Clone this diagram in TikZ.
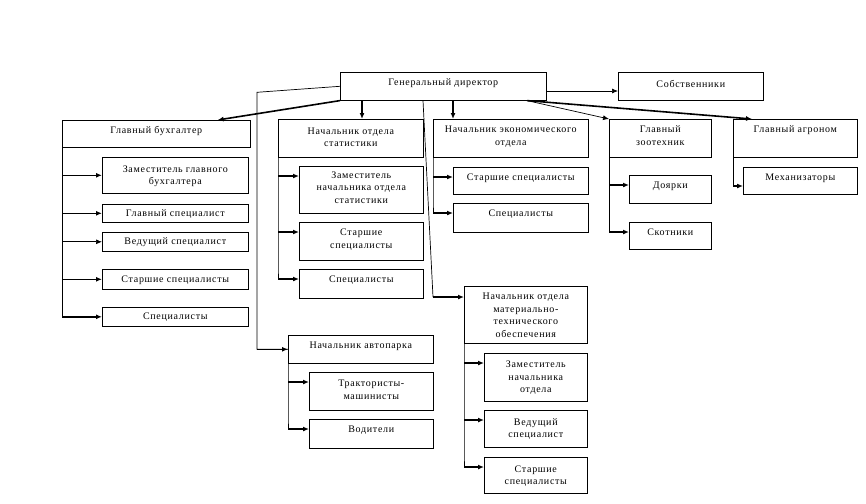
\documentclass[tikz,border=0pt]{standalone}
\usepackage{fontspec}
\setmainfont{Liberation Serif}[LetterSpace=7]
\usetikzlibrary{arrows.meta}
\newcommand{\boxtxt}[4][13.5]{\parbox[t][#3pt][t]{#2pt}{\centering\rule{0pt}{#1pt}#4}}

\begin{document}
\begin{tikzpicture}[x=1pt,y=-1pt,
    box/.style={draw,line width=.6pt,anchor=north west,inner sep=0pt,font=\fontsize{10}{12.5}\selectfont},
    arr/.style={-{Latex[length=6pt,width=5pt]},line width=1.6pt},
    arrthin/.style={-{Latex[length=6pt,width=5pt]},line width=.7pt},
    trunk/.style={line width=.7pt}]
    \useasboundingbox (0,0) rectangle (866,503);

    \node[box] (gd) at (340,72) {\boxtxt{206}{28}{Генеральный директор}};
    \node[box] (sob) at (618,72) {\boxtxt[15.5]{145}{28}{Собственники}};

    \node[box] (buh) at (62,120) {\boxtxt{188}{27}{Главный бухгалтер}};
    \node[box] (buh1) at (102,157) {\boxtxt[15]{146}{36}{Заместитель главного\\бухгалтера}};
    \node[box] (buh2) at (102,204) {\boxtxt[12]{146}{18}{Главный специалист}};
    \node[box] (buh3) at (102,232) {\boxtxt[12]{146}{19}{Ведущий специалист}};
    \node[box] (buh4) at (102,269) {\boxtxt{146}{20}{Старшие специалисты}};
    \node[box] (buh5) at (102,307) {\boxtxt[12]{146}{19}{Специалисты}};

    \node[box] (stat) at (278,119) {\boxtxt[15]{145}{38}{Начальник отдела\\статистики}};
    \node[box] (stat1) at (299,166) {\boxtxt[12]{124}{47}{Заместитель\\начальника отдела\\статистики}};
    \node[box] (stat2) at (299,222) {\boxtxt{124}{38}{Старшие\\специалисты}};
    \node[box] (stat3) at (299,269) {\boxtxt{124}{29}{Специалисты}};

    \node[box] (eco) at (433,119) {\boxtxt{155}{38}{Начальник экономического\\отдела}};
    \node[box] (eco1) at (453,167) {\boxtxt{135}{27}{Старшие  специалисты}};
    \node[box] (eco2) at (453,203) {\boxtxt{135}{29}{Специалисты}};

    \node[box] (zoo) at (609,119) {\boxtxt{102}{38}{Главный\\зоотехник}};
    \node[box] (zoo1) at (629,175) {\boxtxt{82}{28}{Доярки}};
    \node[box] (zoo2) at (629,222) {\boxtxt{82}{27}{Скотники}};

    \node[box] (agr) at (733,119) {\boxtxt{124}{38}{Главный агроном}};
    \node[box] (agr1) at (743,167) {\boxtxt{114}{27}{Механизаторы}};

    \node[box] (avto) at (288,335) {\boxtxt{145}{28}{Начальник автопарка}};
    \node[box] (avto1) at (309,372) {\boxtxt[14.5]{124}{38}{Трактористы-\\машинисты}};
    \node[box] (avto2) at (309,419) {\boxtxt{124}{29}{Водители}};

    \node[box] (mto) at (464,286) {\boxtxt{123}{57}{Начальник отдела\\материально-\\технического\\обеспечения}};
    \node[box] (mto1) at (484,353) {\boxtxt[14.5]{103}{48}{Заместитель\\начальника\\отдела}};
    \node[box] (mto2) at (484,410) {\boxtxt[15]{103}{37}{Ведущий\\специалист}};
    \node[box] (mto3) at (484,457) {\boxtxt[15]{103}{36}{Старшие\\специалисты}};

    \draw[arr] (gd.south west) -- ([xshift=-33pt]buh.north east);
    \draw[trunk] (gd.west) -- ++(-83,6) coordinate (avc) |- (avto.west);
    \draw[arr] (avc |- avto.west) -- (avto.west);
    \draw[arr] ([xshift=22pt]gd.south west) -- ([xshift=84pt]stat.north west);
    \draw[trunk] ([xshift=83pt]gd.south west) -- ([xshift=-31pt,yshift=-11pt]mto.north west) coordinate (mtc);
    \draw[arr] (mtc) -- ([yshift=-11pt]mto.north west);
    \draw[arr] ([xshift=113pt]gd.south west) -- ([xshift=20pt]eco.north west);
    \draw[arrthin] ([xshift=187pt]gd.south west) -- (zoo.north west);
    \draw[arr] ([xshift=187pt]gd.south west) -- ([xshift=19pt]agr.north west);
    \draw[arrthin] ([yshift=-19pt]gd.north east) -- ([yshift=-19pt]sob.north west);

    \draw[trunk] (buh.south west) -- (buh.south west |- buh5.west);
    \foreach \x in {buh1,buh2,buh4,buh5}
        \draw[arr] (buh.south west |- \x.west) -- (\x.west);
    \draw[arrthin] (buh.south west |- buh3.west) -- (buh3.west);

    \draw[trunk] (stat.south west) -- (stat.south west |- stat3.north west) -- ++(0,10);
    \foreach \x in {stat1,stat2,stat3}
        \draw[arr] (stat.south west |- \x.north west) ++(0,10) -- ([yshift=-10pt]\x.north west);

    \draw[trunk] (eco.south west) -- (eco.south west |- eco2.north west) -- ++(0,10);
    \foreach \x in {eco1,eco2}
        \draw[arr] (eco.south west |- \x.north west) ++(0,10) -- ([yshift=-10pt]\x.north west);

    \draw[trunk] (zoo.south west) -- (zoo.south west |- zoo2.north west) -- ++(0,10);
    \foreach \x in {zoo1,zoo2}
        \draw[arr] (zoo.south west |- \x.north west) ++(0,10) -- ([yshift=-10pt]\x.north west);

    \draw[trunk] (agr.south west) -- (agr.south west |- agr1.north west) -- ++(0,19);
    \draw[arr] (agr.south west |- agr1.north west) ++(0,19) -- ([yshift=-19pt]agr1.north west);

    \draw[trunk] (avto.south west) -- (avto.south west |- avto2.north west) -- ++(0,10);
    \foreach \x in {avto1,avto2}
        \draw[arr] (avto.south west |- \x.north west) ++(0,10) -- ([yshift=-10pt]\x.north west);

    \draw[trunk] (mto.south west) -- (mto.south west |- mto3.north west) -- ++(0,9);
    \foreach \x in {mto1,mto2,mto3}
        \draw[arr] (mto.south west |- \x.north west) ++(0,10) -- ([yshift=-10pt]\x.north west);
\end{tikzpicture}
\end{document}
